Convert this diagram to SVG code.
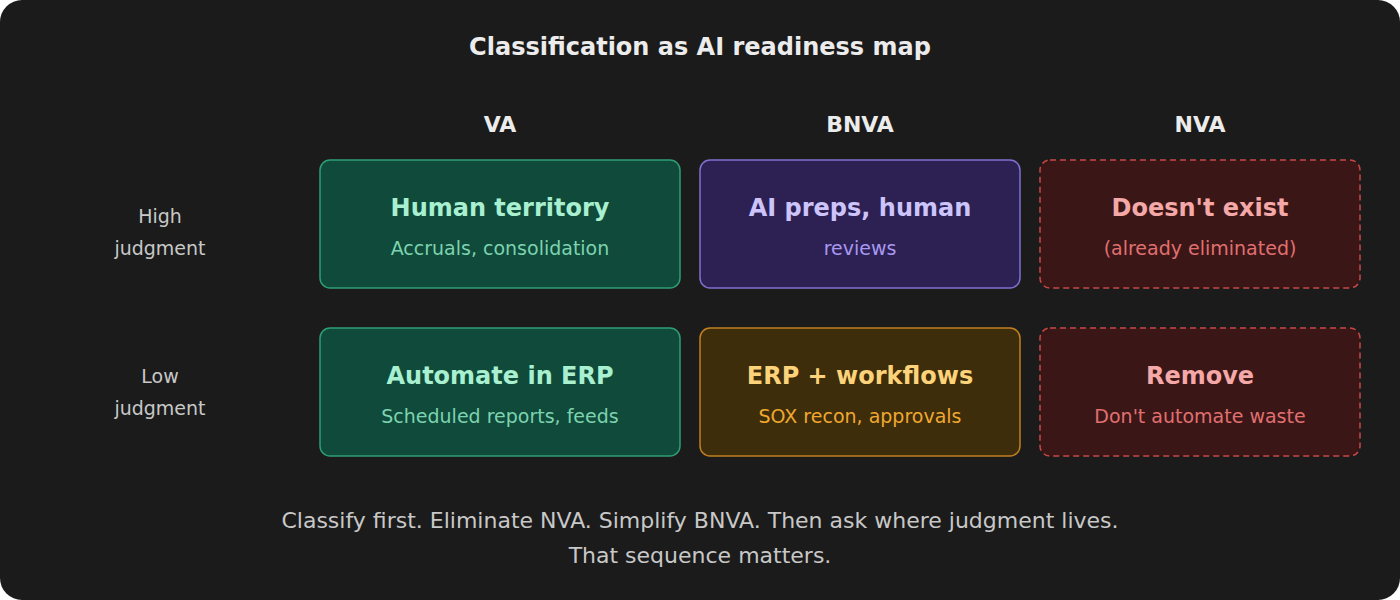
<svg xmlns="http://www.w3.org/2000/svg" width="1400" height="600" viewBox="0 0 1400 600">
<style>
text{font-family:"DejaVu Sans",sans-serif;text-anchor:middle}
.h{font-size:24px;font-weight:bold;fill:#ececec}
.c{font-size:22px;font-weight:bold;fill:#ececec}
.r{font-size:19px;fill:#c8c8c8}
.t{font-size:24px;font-weight:bold}
.s{font-size:19px}
.f{font-size:22px;fill:#c8c8c8}
.g rect{fill:#0f4a3a;stroke:#2e9e74;stroke-width:1.5}
.p rect{fill:#2d2154;stroke:#8070d0;stroke-width:1.5}
.o rect{fill:#3d2d0a;stroke:#c08020;stroke-width:1.5}
.x rect{fill:#3b1616;stroke:#c84848;stroke-width:1.5;stroke-dasharray:6 4}
</style>
<rect width="1400" height="600" rx="22" fill="#1b1b1b"/>
<text class="h" x="700" y="55">Classification as AI readiness map</text>
<text class="c" x="500" y="132">VA</text>
<text class="c" x="860" y="132">BNVA</text>
<text class="c" x="1200" y="132">NVA</text>
<text class="r" x="160" y="223">High</text>
<text class="r" x="160" y="255">judgment</text>
<text class="r" x="160" y="383">Low</text>
<text class="r" x="160" y="415">judgment</text>
<g id="va-high" class="g"><rect x="320" y="160" width="360" height="128" rx="10"/><text class="t" x="500" y="216" fill="#a8f0d0">Human territory</text><text class="s" x="500" y="255" fill="#7dd3b0">Accruals, consolidation</text></g>
<g id="bnva-high" class="p"><rect x="700" y="160" width="320" height="128" rx="10"/><text class="t" x="860" y="216" fill="#ccc4fa">AI preps, human</text><text class="s" x="860" y="255" fill="#a898f0">reviews</text></g>
<g id="nva-high" class="x"><rect x="1040" y="160" width="320" height="128" rx="10"/><text class="t" x="1200" y="216" fill="#f4a8a8">Doesn't exist</text><text class="s" x="1200" y="255" fill="#e07070">(already eliminated)</text></g>
<g id="va-low" class="g"><rect x="320" y="328" width="360" height="128" rx="10"/><text class="t" x="500" y="384" fill="#a8f0d0">Automate in ERP</text><text class="s" x="500" y="423" fill="#7dd3b0">Scheduled reports, feeds</text></g>
<g id="bnva-low" class="o"><rect x="700" y="328" width="320" height="128" rx="10"/><text class="t" x="860" y="384" fill="#fcd27a">ERP + workflows</text><text class="s" x="860" y="423" fill="#f0a830">SOX recon, approvals</text></g>
<g id="nva-low" class="x"><rect x="1040" y="328" width="320" height="128" rx="10"/><text class="t" x="1200" y="384" fill="#f4a8a8">Remove</text><text class="s" x="1200" y="423" fill="#e07070">Don't automate waste</text></g>
<g id="connectors"/>
<text class="f" x="700" y="528">Classify first. Eliminate NVA. Simplify BNVA. Then ask where judgment lives.</text>
<text class="f" x="700" y="563">That sequence matters.</text>
</svg>
